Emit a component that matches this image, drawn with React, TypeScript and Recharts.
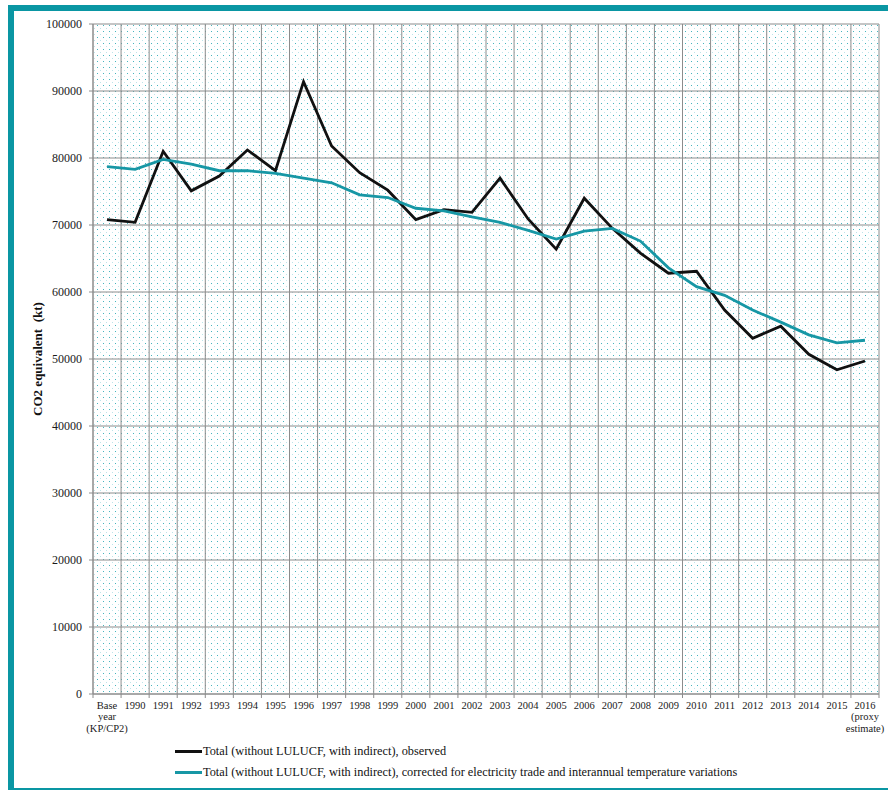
import { LineChart, Line, XAxis, YAxis, CartesianGrid, Legend, Label } from 'recharts'

const categories = [
  'Base\nyear\n(KP/CP2)', '1990', '1991', '1992', '1993', '1994', '1995', '1996', '1997', '1998',
  '1999', '2000', '2001', '2002', '2003', '2004', '2005', '2006', '2007', '2008',
  '2009', '2010', '2011', '2012', '2013', '2014', '2015', '2016\n(proxy\nestimate)',
]

const observed = [
  70800, 70400, 81000, 75100, 77300, 81200, 78100, 91400, 81800, 77800,
  75200, 70800, 72300, 71900, 77000, 70900, 66400, 74000, 69500, 65800,
  62800, 63100, 57300, 53100, 54900, 50700, 48400, 49700,
]

const corrected = [
  78700, 78300, 79800, 79100, 78100, 78100, 77700, 77000, 76300, 74500,
  74100, 72500, 72100, 71200, 70400, 69200, 67900, 69100, 69500, 67600,
  63600, 60800, 59500, 57300, 55500, 53600, 52400, 52800,
]

const yTicks = [0, 10000, 20000, 30000, 40000, 50000, 60000, 70000, 80000, 90000, 100000]

const seriesNames = {
  observed: 'Total (without LULUCF, with indirect), observed',
  corrected: 'Total (without LULUCF, with indirect), corrected for electricity trade and interannual temperature variations',
}

const data = categories.map((name, i) => ({ name, observed: observed[i], corrected: corrected[i] }))

const SERIF = "'Liberation Serif', 'Times New Roman', serif"
const TEAL = '#1797a5'
const FRAME = '#0a96a3'
const GRID = '#8c8c8c'

function XTick(props: any) {
  const { x, y, payload, index } = props
  const half = payload.offset || 14
  const lines = String(payload.value).split('\n')
  return (
    <g>
      <line x1={x - half} x2={x - half} y1={y - 8} y2={y - 4} stroke={GRID} />
      {index === categories.length - 1 && (
        <line x1={x + half} x2={x + half} y1={y - 8} y2={y - 4} stroke={GRID} />
      )}
      <text x={x} y={y} textAnchor="middle" fontSize={10.5} fill="#1a1a1a" fontFamily={SERIF}>
        {lines.map((l, i) => (
          <tspan key={i} x={x} dy={i === 0 ? '0.71em' : '1.05em'}>{l}</tspan>
        ))}
      </text>
    </g>
  )
}

function YLabel(props: any) {
  const { viewBox } = props
  const x = viewBox.x + 14
  const y = viewBox.y + viewBox.height / 2
  return (
    <text
      x={x}
      y={y}
      transform={`rotate(-90 ${x} ${y})`}
      textAnchor="middle"
      dominantBaseline="central"
      fontSize={13}
      fontWeight="bold"
      fontFamily={SERIF}
      fill="#111"
      style={{ whiteSpace: 'pre' }}
    >
      CO2 equivalent  (kt)
    </text>
  )
}

function renderLegend() {
  const rows = [
    { label: seriesNames.observed, color: '#111' },
    { label: seriesNames.corrected, color: TEAL },
  ]
  return (
    <div style={{ fontFamily: SERIF, fontSize: 12.3, color: '#111' }}>
      {rows.map((r) => (
        <div key={r.label} style={{ display: 'flex', alignItems: 'center', height: 21 }}>
          <span style={{ display: 'inline-block', width: 27, height: 3, background: r.color, marginRight: 1 }} />
          <span style={{ whiteSpace: 'pre' }}>{r.label}</span>
        </div>
      ))}
    </div>
  )
}

export default function App() {
  return (
    <div style={{ position: 'absolute', left: 0, top: 0, width: 888, height: 790, background: '#fff' }}>
      <div
        style={{
          position: 'absolute',
          left: 8,
          top: 5,
          width: 880,
          height: 785,
          boxSizing: 'border-box',
          borderTop: `6px solid ${FRAME}`,
          borderLeft: `6px solid ${FRAME}`,
          borderBottom: `2px solid ${FRAME}`,
        }}
      />
      <div style={{ position: 'absolute', left: 0, top: 0 }}>
        <LineChart width={888} height={790} data={data} margin={{ top: 24, right: 9, bottom: 36, left: 23 }}>
          <defs>
            <pattern id="dotGrid" width="6" height="6" patternUnits="userSpaceOnUse">
              <rect x="0" y="0" width="6" height="6" fill="#fff" />
              <rect x="1" y="1" width="1" height="1" fill="#45b5bf" />
              <rect x="4" y="4" width="1" height="1" fill="#bde5e9" />
            </pattern>
          </defs>
          <CartesianGrid
            stroke={GRID}
            fill="url(#dotGrid)"
            fillOpacity={1}
            verticalCoordinatesGenerator={({ offset }: any) =>
              categories.map((_, i) => offset.left + (i * offset.width) / categories.length).concat(offset.left + offset.width)
            }
          />
          <XAxis
            dataKey="name"
            scale="band"
            interval={0}
            height={60}
            tickSize={4}
            tickMargin={4}
            tickLine={false}
            axisLine={{ stroke: GRID }}
            tick={<XTick />}
          />
          <YAxis
            width={70}
            domain={[0, 100000]}
            ticks={yTicks}
            tickSize={4}
            tickMargin={7}
            axisLine={{ stroke: GRID }}
            tickLine={{ stroke: GRID }}
            tick={{ fontSize: 12, fill: '#1a1a1a', fontFamily: SERIF }}
          >
            <Label content={<YLabel />} />
          </YAxis>
          <Legend
            layout="vertical"
            verticalAlign="middle"
            align="center"
            wrapperStyle={{ left: 175, top: 741, width: 680 }}
            content={renderLegend}
          />
          <Line
            type="linear"
            dataKey="observed"
            name={seriesNames.observed}
            stroke="#111"
            strokeWidth={2.8}
            dot={false}
            isAnimationActive={false}
          />
          <Line
            type="linear"
            dataKey="corrected"
            name={seriesNames.corrected}
            stroke={TEAL}
            strokeWidth={2.8}
            dot={false}
            isAnimationActive={false}
          />
        </LineChart>
      </div>
    </div>
  )
}
